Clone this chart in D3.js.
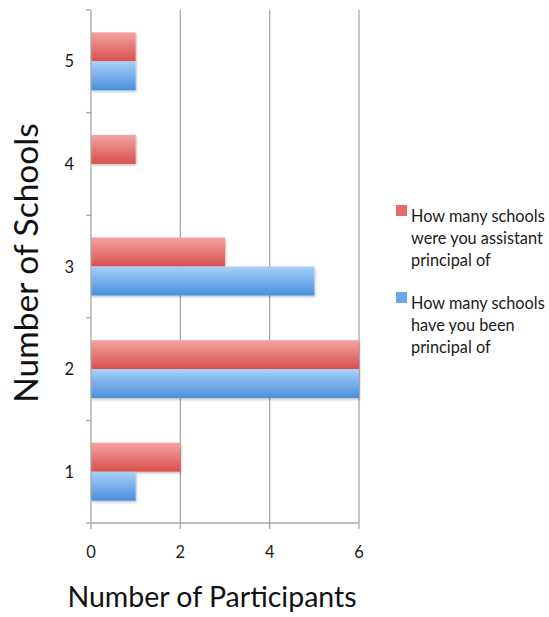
<!DOCTYPE html>
<html>
<head>
<meta charset="utf-8">
<script src="https://cdn.jsdelivr.net/npm/d3@7"></script>
<style>
  html, body { margin: 0; padding: 0; background: #fff; }
  svg { display: block; font-family: Lato, "Open Sans", sans-serif; }
</style>
</head>
<body>
<svg id="chart" width="549" height="617"></svg>
<script>
// ---- Data ----
const categories = ["1", "2", "3", "4", "5"];
const seriesNames = [
  "How many schools were you assistant principal of",
  "How many schools have you been principal of"
];
const assistantValues = [2, 6, 3, 1, 1];
const principalValues = [1, 6, 5, 0, 1];
const xTicks = [0, 2, 4, 6];
const legendLines = [
  ["How many schools", "were you assistant", "principal of"],
  ["How many schools", "have you been", "principal of"]
];

// ---- Layout ----
const svg = d3.select("#chart");
const pLeft = 91, pRight = 359, pTop = 10, pBottom = 523;

const x = d3.scaleLinear().domain([0, 6]).range([pLeft, pRight]);
const y = d3.scaleBand().domain(categories.slice().reverse()).range([pTop, pBottom]).paddingInner(0.435).paddingOuter(0.2175);
const sub = d3.scaleBand().domain([0, 1]).range([0, y.bandwidth()]);

const defs = svg.append("defs");
function grad(id, c1, c2) {
  const g = defs.append("linearGradient").attr("id", id).attr("x1", 0).attr("y1", 0).attr("x2", 0).attr("y2", 1);
  g.append("stop").attr("offset", "0%").attr("stop-color", c1);
  g.append("stop").attr("offset", "100%").attr("stop-color", c2);
}
grad("gRed", "#f5a3a1", "#d8504c");
grad("gBlue", "#a9d0fa", "#4a8fdb");
const f = defs.append("filter").attr("id", "shadow").attr("x", "-5%").attr("y", "-10%").attr("width", "115%").attr("height", "140%");
f.append("feDropShadow").attr("dx", 1).attr("dy", 1.5).attr("stdDeviation", 1.2).attr("flood-color", "#000").attr("flood-opacity", 0.25);

// gridlines
svg.append("g").selectAll("line").data(xTicks.filter(d => d > 0)).join("line")
  .attr("x1", d => x(d)).attr("x2", d => x(d))
  .attr("y1", pTop).attr("y2", pBottom)
  .attr("stroke", "#a6a6a6").attr("stroke-width", 1.3);

// bars
const data = categories.map((c, i) => ({ c, vals: [assistantValues[i], principalValues[i]] }));
const fills = ["url(#gRed)", "url(#gBlue)"];
const barG = svg.append("g").attr("filter", "url(#shadow)");
data.forEach(d => {
  d.vals.forEach((v, k) => {
    if (v <= 0) return;
    barG.append("rect")
      .attr("x", x(0))
      .attr("y", y(d.c) + sub(k))
      .attr("width", x(v) - x(0))
      .attr("height", sub.bandwidth())
      .attr("fill", fills[k]);
  });
});

// y axis
const yAxisG = svg.append("g");
yAxisG.append("line").attr("x1", pLeft).attr("x2", pLeft).attr("y1", pTop).attr("y2", pBottom)
  .attr("stroke", "#a6a6a6").attr("stroke-width", 1.3);
const yBoundaries = d3.range(categories.length + 1).map(i => pTop + i * (pBottom - pTop) / categories.length);
yAxisG.selectAll("line.tk").data(yBoundaries).join("line").attr("class", "tk")
  .attr("x1", pLeft - 5).attr("x2", pLeft).attr("y1", d => d).attr("y2", d => d)
  .attr("stroke", "#a6a6a6").attr("stroke-width", 1.3);
yAxisG.selectAll("text").data(categories).join("text")
  .attr("x", 74).attr("y", d => y(d) + y.bandwidth() / 2 + 6)
  .attr("text-anchor", "end").attr("font-size", 16.5).attr("fill", "#1a1a1a")
  .text(d => d);

// x axis
const xAxisG = svg.append("g");
xAxisG.append("line").attr("x1", pLeft).attr("x2", pRight).attr("y1", pBottom).attr("y2", pBottom)
  .attr("stroke", "#a6a6a6").attr("stroke-width", 1.3);
xAxisG.selectAll("line.tk").data(xTicks).join("line").attr("class", "tk")
  .attr("x1", d => x(d)).attr("x2", d => x(d)).attr("y1", pBottom).attr("y2", pBottom + 6)
  .attr("stroke", "#a6a6a6").attr("stroke-width", 1.3);
xAxisG.selectAll("text").data(xTicks).join("text")
  .attr("x", d => x(d)).attr("y", 558)
  .attr("text-anchor", "middle").attr("font-size", 16.5).attr("fill", "#1a1a1a")
  .text(d => d);

// titles
svg.append("text").attr("x", 212).attr("y", 607).attr("text-anchor", "middle")
  .attr("font-size", 28.5).attr("fill", "#111").text("Number of Participants");
svg.append("text").attr("transform", "translate(38,263) rotate(-90)").attr("text-anchor", "middle")
  .attr("font-size", 33.5).attr("fill", "#111").text("Number of Schools");

// legend
const legColors = ["#e56b68", "#6aa6e8"];
const legTop = [205, 292];
legendLines.forEach((lines, k) => {
  const g = svg.append("g");
  g.append("rect").attr("x", 396).attr("y", legTop[k]).attr("width", 11).attr("height", 11).attr("fill", legColors[k]);
  lines.forEach((t, j) => {
    g.append("text").attr("x", 411).attr("y", legTop[k] + 17 + j * 22)
      .attr("font-size", 16.3).attr("fill", "#1a1a1a").text(t);
  });
});
</script>
</body>
</html>
